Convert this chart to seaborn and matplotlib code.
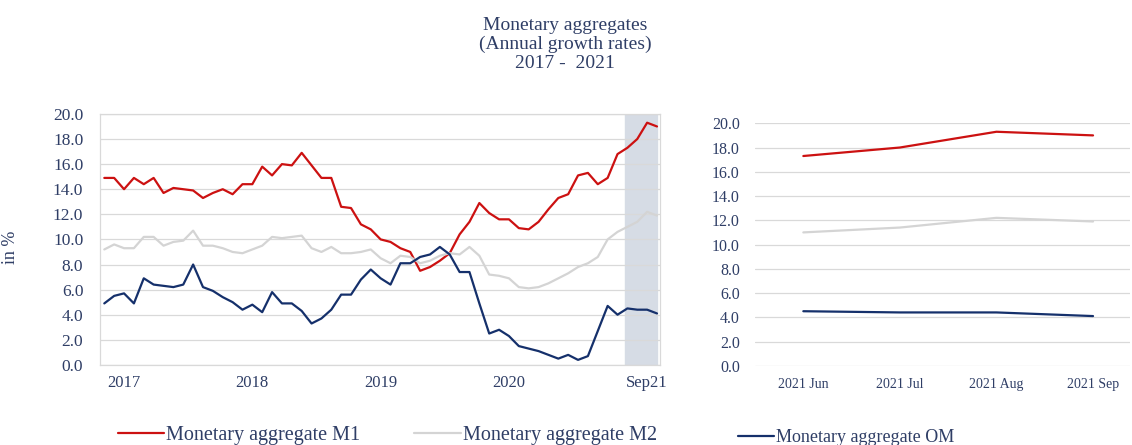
import matplotlib
matplotlib.use("Agg")
import matplotlib.pyplot as plt
import seaborn as sns
import pandas as pd

# monthly annual growth rates, Jan 2017 - Sep 2021 (%)
months = pd.date_range("2017-01-01", periods=57, freq="MS")
m1 = [14.9, 14.9, 14.0, 14.9, 14.4, 14.9, 13.7, 14.1, 14.0, 13.9, 13.3, 13.7, 14.0, 13.6,
      14.4, 14.4, 15.8, 15.1, 16.0, 15.9, 16.9, 15.9, 14.9, 14.9, 12.6, 12.5, 11.2, 10.8,
      10.0, 9.8, 9.3, 9.0, 7.5, 7.8, 8.3, 8.9, 10.4, 11.4, 12.9, 12.1, 11.6, 11.6,
      10.9, 10.8, 11.4, 12.4, 13.3, 13.6, 15.1, 15.3, 14.4, 14.9, 16.8, 17.3, 18.0, 19.3, 19.0]
m2 = [9.2, 9.6, 9.3, 9.3, 10.2, 10.2, 9.5, 9.8, 9.9, 10.7, 9.5, 9.5, 9.3, 9.0,
      8.9, 9.2, 9.5, 10.2, 10.1, 10.2, 10.3, 9.3, 9.0, 9.4, 8.9, 8.9, 9.0, 9.2,
      8.5, 8.1, 8.7, 8.6, 8.1, 8.3, 8.7, 8.9, 8.8, 9.4, 8.7, 7.2, 7.1, 6.9,
      6.2, 6.1, 6.2, 6.5, 6.9, 7.3, 7.8, 8.1, 8.6, 10.0, 10.6, 11.0, 11.4, 12.2, 11.9]
om = [4.9, 5.5, 5.7, 4.9, 6.9, 6.4, 6.3, 6.2, 6.4, 8.0, 6.2, 5.9, 5.4, 5.0,
      4.4, 4.8, 4.2, 5.8, 4.9, 4.9, 4.3, 3.3, 3.7, 4.4, 5.6, 5.6, 6.8, 7.6,
      6.9, 6.4, 8.1, 8.1, 8.6, 8.8, 9.4, 8.8, 7.4, 7.4, 4.9, 2.5, 2.8, 2.3,
      1.5, 1.3, 1.1, 0.8, 0.5, 0.8, 0.4, 0.7, 2.7, 4.7, 4.0, 4.5, 4.4, 4.4, 4.1]

series_names = ["Monetary aggregate M1", "Monetary aggregate M2", "Monetary aggregate OM"]
year_labels = ["2017", "2018", "2019", "2020", "Sep21"]
year_label_pos = [2, 15, 28, 41, 55]
zoom_labels = ["2021 Jun", "2021 Jul", "2021 Aug", "2021 Sep"]

colors = {series_names[0]: "#CC1111", series_names[1]: "#D4D4D4", series_names[2]: "#15306B"}
txt = "#2F3E66"
grid = "#D9D9D9"

df = pd.DataFrame({
    "idx": list(range(len(months))) * 3,
    "value": m1 + m2 + om,
    "series": [s for s in series_names for _ in months],
})
last = df[df["idx"] >= len(months) - 4].copy()
last["pos"] = last["idx"] - (len(months) - 4)

sns.set_theme(style="white")
plt.rcParams["font.family"] = ["Liberation Serif", "DejaVu Serif"]

fig = plt.figure(figsize=(11.32, 4.45), dpi=100)
ax = fig.add_axes([0.0883, 0.18, 0.4947, 0.564])
ax2 = fig.add_axes([0.667, 0.178, 0.331, 0.545])

# left panel: full period
ax.axvspan(52.8, 56.0, color="#D6DCE5", zorder=0)
sns.lineplot(data=df, x="idx", y="value", hue="series", palette=colors,
             hue_order=series_names, linewidth=1.6, ax=ax, zorder=3)
ax.set_xlim(-0.44, 56.3)
ax.set_ylim(0, 20)
ax.set_yticks(range(0, 21, 2))
ax.set_yticklabels([f"{v:.1f}" for v in range(0, 21, 2)])
ax.set_xticks(year_label_pos)
ax.set_xticklabels(year_labels)
ax.grid(axis="y", color=grid, linewidth=0.9)
ax.set_axisbelow(True)
for sp in ax.spines.values():
    sp.set_color(grid)
    sp.set_linewidth(0.9)
ax.tick_params(axis="y", length=0, pad=12, labelsize=12.5, labelcolor=txt)
ax.tick_params(axis="x", length=0, pad=7, labelsize=12, labelcolor=txt)
ax.set_xlabel("")
ax.set_ylabel("in %", fontsize=13, color=txt)
ax.yaxis.set_label_coords(-0.145, 0.47)
handles, labels = ax.get_legend_handles_labels()
ax.get_legend().remove()

# right panel: last four months
sns.lineplot(data=last, x="pos", y="value", hue="series", palette=colors,
             hue_order=series_names, linewidth=1.6, ax=ax2, legend=False)
ax2.set_xlim(-0.5, 3.38)
ax2.set_ylim(0, 20)
ax2.set_yticks(range(0, 21, 2))
ax2.set_yticklabels([f"{v:.1f}" for v in range(0, 21, 2)])
ax2.set_xticks(range(4))
ax2.set_xticklabels(zoom_labels)
ax2.grid(axis="y", color=grid, linewidth=0.9)
ax2.set_axisbelow(True)
for sp in ax2.spines.values():
    sp.set_visible(False)
ax2.tick_params(axis="y", length=0, pad=11, labelsize=11.5, labelcolor=txt)
ax2.tick_params(axis="x", length=0, pad=9, labelsize=10, labelcolor=txt)
ax2.set_xlabel("")
ax2.set_ylabel("")

fig.text(0.499, 0.90, "Monetary aggregates\n(Annual growth rates)\n2017 -  2021",
         ha="center", va="center", fontsize=14, color=txt, linespacing=1.15)

# legend entries placed one by one, as in the original layout
leg_x = [0.104, 0.366, 0.652]
leg_y = [0.022, 0.022, 0.017]
leg_size = [14.5, 14.5, 13]
leg_hlen = [2.3, 2.3, 2.0]
for h, l, x, y, fs, hl in zip(handles, labels, leg_x, leg_y, leg_size, leg_hlen):
    fig.legend([h], [l], loc="center left", bbox_to_anchor=(x, y), frameon=False,
               fontsize=fs, handlelength=hl, handletextpad=0.1, borderpad=0,
               borderaxespad=0, labelcolor=txt)

fig.savefig("out.png", dpi=100)
